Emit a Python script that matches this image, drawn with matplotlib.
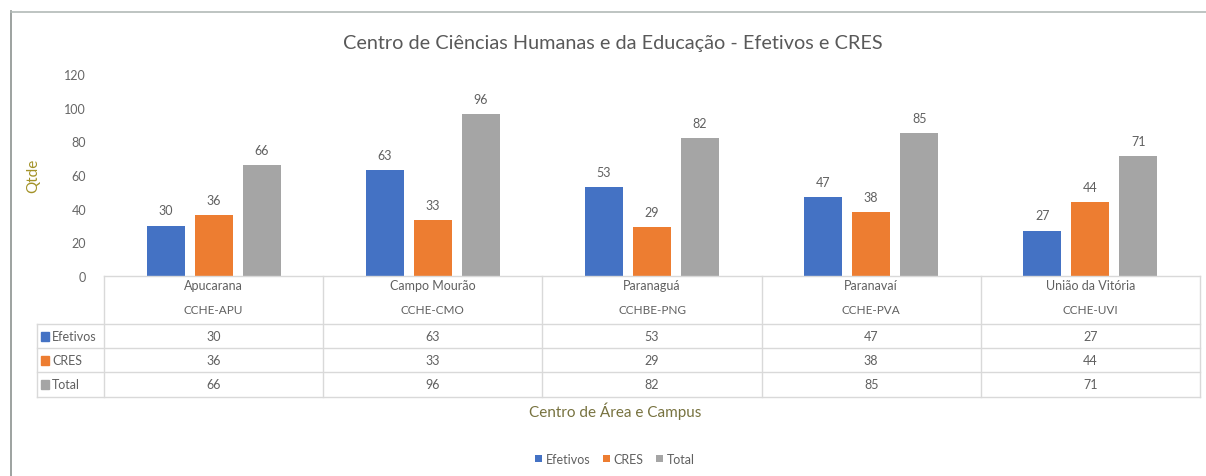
import numpy as np
import matplotlib.pyplot as plt
from matplotlib.transforms import blended_transform_factory

plt.rcParams['font.family'] = ['Lato', 'DejaVu Sans']

campus = ['Apucarana', 'Campo Mourão', 'Paranaguá', 'Paranavaí', 'União da Vitória']
centros = ['CCHE-APU', 'CCHE-CMO', 'CCHBE-PNG', 'CCHE-PVA', 'CCHE-UVI']
series = ['Efetivos', 'CRES', 'Total']
efetivos = [30, 63, 53, 47, 27]
cres = [36, 33, 29, 38, 44]
total = [66, 96, 82, 85, 71]
valores = [efetivos, cres, total]
cores = ['#4472C4', '#ED7D31', '#A5A5A5']

W, H = 1206, 477
fig = plt.figure(figsize=(W / 100, H / 100), dpi=100)

def fy(py):
   return 1 - py / H

def fx(px):
   return px / W

# moldura
fig.add_artist(plt.Line2D([fx(10.5), fx(10.5)], [fy(12), 0], transform=fig.transFigure, color='#8c9290', lw=1.2))
fig.add_artist(plt.Line2D([fx(10.5), 1], [fy(12.5), fy(12.5)], transform=fig.transFigure, color='#b3bab7', lw=1.2))

ax = fig.add_axes([fx(104), fy(277), fx(1200) - fx(104), fy(75) - fy(277)])
x = np.arange(len(campus))
larg = 0.174
passo = 0.219
for i, (nome, vals, cor) in enumerate(zip(series, valores, cores)):
   pos = x + (i - 1) * passo
   bars = ax.bar(pos, vals, width=larg, color=cor, label=nome)
   for p, v in zip(pos, vals):
      ax.text(p, v + 5.5, str(v), ha='center', va='bottom', fontsize=9, color='#606060')

ax.set_xlim(-0.5, len(campus) - 0.5)
ax.set_ylim(0, 120)
ax.set_yticks(range(0, 121, 20))
ax.tick_params(axis='y', length=0, labelsize=9, labelcolor='#666666', pad=13)
ax.set_xticks([])
for s in ax.spines.values():
   s.set_visible(False)
ax.set_ylabel('Qtde', fontsize=11, color='#A39228')
ax.yaxis.set_label_coords((40 - 104) / (1200 - 104), 0.5)

# tabela de dados
tr = blended_transform_factory(ax.transData, fig.transFigure)
cinza = '#d9d9d9'
ax.add_artist(plt.Line2D([-0.5, len(campus) - 0.5], [fy(277), fy(277)], transform=tr, color=cinza, lw=1, clip_on=False))
for k in range(len(campus) + 1):
   fig.add_artist(plt.Line2D([k - 0.5, k - 0.5], [fy(277), fy(398)], transform=tr, color=cinza, lw=1))
for py in [325, 349, 373, 398]:
   fig.add_artist(plt.Line2D([fx(37), fx(1200)], [fy(py), fy(py)], transform=fig.transFigure, color=cinza, lw=1))
fig.add_artist(plt.Line2D([fx(37), fx(37)], [fy(325), fy(398)], transform=fig.transFigure, color=cinza, lw=1))

for i in range(len(campus)):
   fig.text(i, fy(286), campus[i], transform=tr, ha='center', va='center', fontsize=9, color='#606060')
   fig.text(i, fy(310), centros[i], transform=tr, ha='center', va='center', fontsize=8.5, color='#606060')

linhas_y = [337, 361, 385]
for j, (nome, vals, cor) in enumerate(zip(series, valores, cores)):
   py = linhas_y[j]
   fig.add_artist(plt.Rectangle((fx(41), fy(py + 4.5)), fx(8), fy(py - 4.5) - fy(py + 4.5), transform=fig.transFigure, color=cor))
   fig.text(fx(52), fy(py), nome, ha='left', va='center', fontsize=9, color='#606060')
   for i, v in enumerate(vals):
      fig.text(i, fy(py), str(v), transform=tr, ha='center', va='center', fontsize=9, color='#606060')

fig.text(fx(615), fy(411), 'Centro de Área e Campus', ha='center', va='center', fontsize=11, color='#77723f')
fig.text(fx(613), fy(44), 'Centro de Ciências Humanas e da Educação - Efetivos e CRES', ha='center', va='center', fontsize=14.3, color='#595959')

fig.legend(loc='center', bbox_to_anchor=(fx(615), fy(460)), ncol=3, frameon=False, fontsize=9,
           handlelength=0.55, handleheight=0.55, handletextpad=0.3, columnspacing=1.0, labelcolor='#606060')

fig.savefig('out.png', dpi=100)
